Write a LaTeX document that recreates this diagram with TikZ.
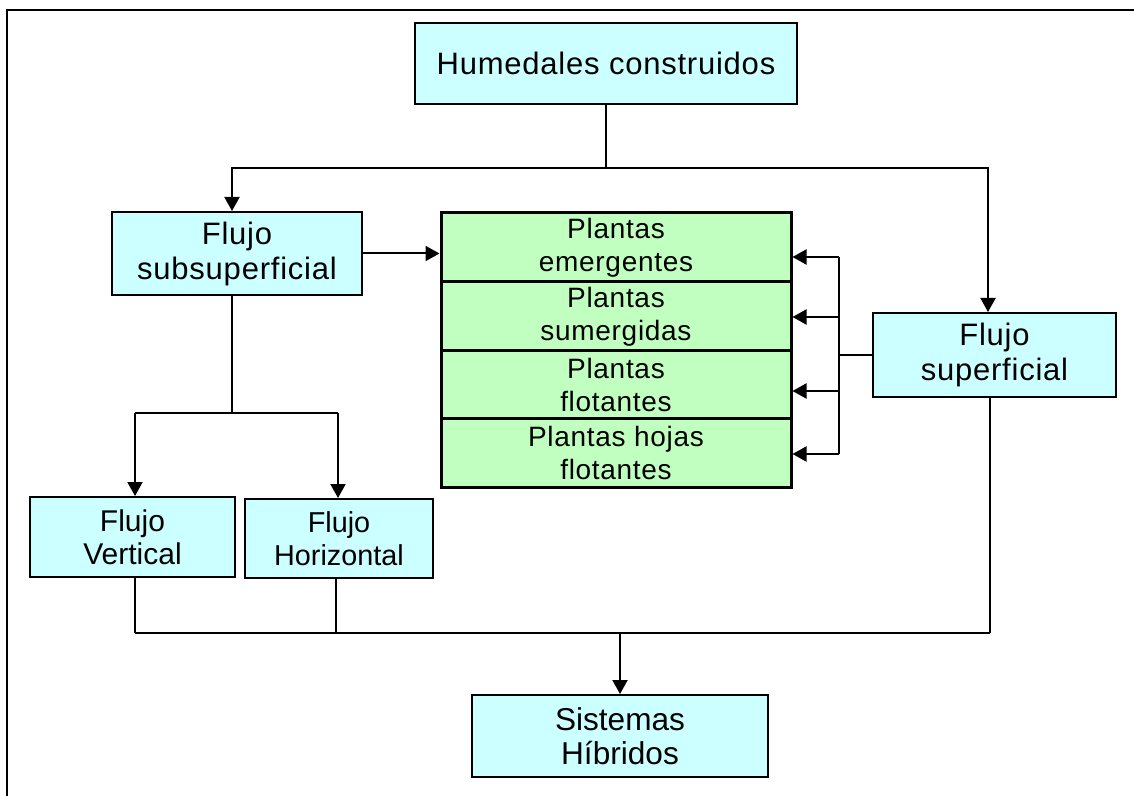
\documentclass[tikz,border=0pt]{standalone}
\usepackage{fontspec}
\setmainfont{Liberation Sans}
\newfontfamily\spacedfont[LetterSpace=2.5]{Liberation Sans}
\usetikzlibrary{arrows.meta}
\definecolor{boxcyan}{HTML}{CCFFFF}
\definecolor{boxgreen}{HTML}{C0FFC0}
\begin{document}
\begin{tikzpicture}[x=0.5pt,y=-0.5pt,
  cbox/.style={draw=black, line width=1pt, fill=boxcyan, align=center, inner sep=0pt},
  sptext/.style={font=\spacedfont\fontsize{15.5}{17.5}\selectfont},
  gcell/.style={draw=black, line width=1.5pt, fill=boxgreen, align=center, inner sep=0pt,
    minimum width=175pt, font=\spacedfont\fontsize{14}{16.5}\selectfont},
  conn/.style={line width=1pt},
  arr/.style={conn, -{Triangle[length=7pt,width=7.5pt]}},
]
\useasboundingbox (0,0) rectangle (1134,796);
\draw[line width=1pt] (7,796) -- (7,10) -- (1134,10);

% boxes
\node[cbox, sptext, minimum width=191pt, minimum height=40.5pt] (hum) at (606,63.5) {Humedales construidos};
\node[cbox, sptext, minimum width=125pt, minimum height=41.5pt] (sub) at (237,253.5) {Flujo\\subsuperficial};
\node[cbox, sptext, minimum width=121.5pt, minimum height=42pt] (sup) at (994.5,355) {Flujo\\superficial};

\node[gcell, minimum height=34.5pt] (cA) at (616,247.5) {Plantas\\emergentes};
\node[gcell, minimum height=34.5pt] (cB) at (616,316.5) {Plantas\\sumergidas};
\node[gcell, minimum height=33.5pt] (cC) at (616,384.5) {Plantas\\flotantes};
\node[gcell, minimum height=34.5pt] (cD) at (616,452.5) {Plantas hojas\\flotantes};

\node[cbox, font=\fontsize{15}{16.5}\selectfont, minimum width=102.5pt, minimum height=40pt] (vert) at (132.5,537) {Flujo\\Vertical};
\node[cbox, font=\fontsize{14.4}{16.5}\selectfont, minimum width=94pt, minimum height=39.5pt] (hori) at (339,538.5) {Flujo\\Horizontal};
\node[cbox, font=\fontsize{15.8}{17}\selectfont, minimum width=148pt, minimum height=41pt] (sis) at (620,736) {Sistemas\\Híbridos};

% top split
\coordinate (split) at (606,168);
\coordinate (tl) at (232,168);
\coordinate (tr) at (988,168);
\draw[conn] (hum.south -| split) -- (split);
\draw[arr] (split) -- (tl) -- (tl |- sub.north);
\draw[arr] (split) -- (tr) -- (tr |- sup.north);

% sub -> green
\draw[arr] (sub.east) -- (sub.east -| cA.west);

% sup -> green cells
\coordinate (bus) at (839,353);
\coordinate (ba) at (839,257);
\coordinate (bb) at (839,317);
\coordinate (bc) at (839,391);
\coordinate (bd) at (839,454);
\draw[conn] (sup.west) -- (bus |- sup.west);
\draw[conn] (ba) -- (bd);
\draw[arr] (ba) -- (ba -| cA.east);
\draw[arr] (bb) -- (bb -| cB.east);
\draw[arr] (bc) -- (bc -| cC.east);
\draw[arr] (bd) -- (bd -| cD.east);

% sub -> vertical / horizontal
\coordinate (sl) at (232,413);
\coordinate (vl) at (135,413);
\coordinate (hl) at (338,413);
\draw[conn] (sl |- sub.south) -- (sl);
\draw[conn] (vl) -- (hl);
\draw[arr] (vl) -- (vl |- vert.north);
\draw[arr] (hl) -- (hl |- hori.north);

% bottom bus
\coordinate (b1) at (135,633);
\coordinate (b2) at (336,633);
\coordinate (b3) at (990,633);
\coordinate (bm) at (620,633);
\draw[conn] (b1 |- vert.south) -- (b1);
\draw[conn] (b2 |- hori.south) -- (b2);
\draw[conn] (b3 |- sup.south) -- (b3);
\draw[conn] (b1) -- (b3);
\draw[arr] (bm) -- (sis.north);
\end{tikzpicture}
\end{document}
